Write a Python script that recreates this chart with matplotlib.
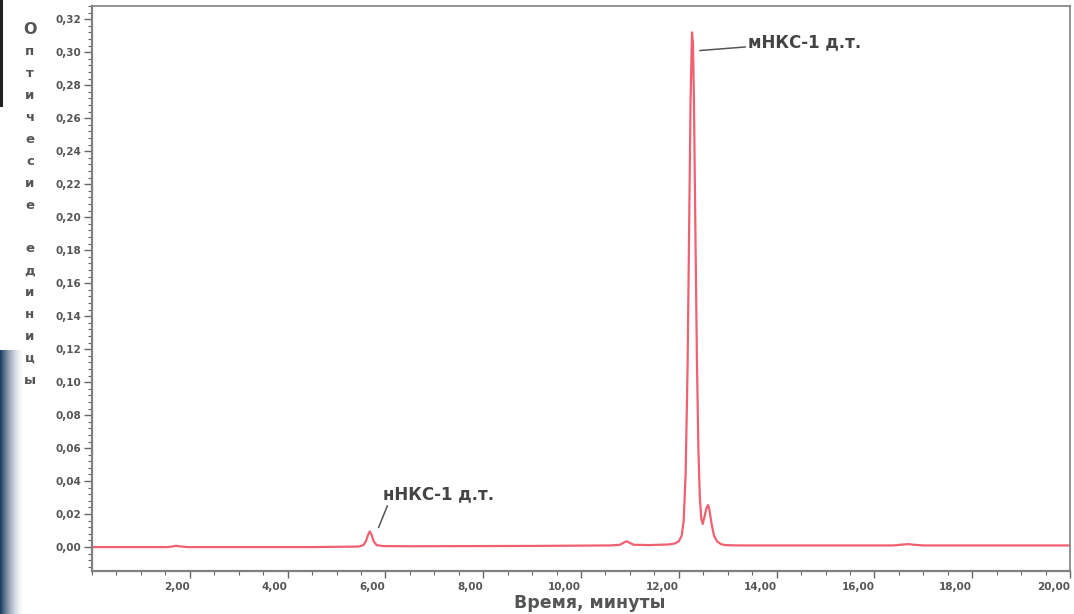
import numpy as np
import matplotlib
matplotlib.use("Agg")
import matplotlib.pyplot as plt
from matplotlib.ticker import MultipleLocator, FuncFormatter

# ---- data (time, min ; optical units) ----
time_min = [0.0, 1.55, 1.65, 1.72, 1.80, 1.95, 4.5, 5.45, 5.55, 5.60, 5.64, 5.68, 5.72,
            5.76, 5.82, 5.95, 6.5, 9.0, 10.6, 10.80, 10.88, 10.93, 10.98, 11.08, 11.4,
            11.80, 11.92, 12.00, 12.06, 12.10, 12.14, 12.18, 12.21, 12.24, 12.27, 12.29,
            12.31, 12.34, 12.37, 12.40, 12.43, 12.46, 12.49, 12.53, 12.57, 12.60, 12.63,
            12.67, 12.72, 12.78, 12.86, 12.95, 13.2, 14.5, 16.4, 16.6, 16.7, 16.8, 17.0,
            20.0]
absorb = [0.0000, 0.0000, 0.0004, 0.0008, 0.0004, 0.0000, 0.0000, 0.0003, 0.0012, 0.0035,
          0.0070, 0.0095, 0.0072, 0.0035, 0.0012, 0.0006, 0.0005, 0.0007, 0.0010, 0.0014,
          0.0028, 0.0035, 0.0028, 0.0014, 0.0012, 0.0016, 0.0022, 0.0035, 0.0070, 0.0160,
          0.0450, 0.1100, 0.1900, 0.2700, 0.3120, 0.3050, 0.2700, 0.1900, 0.1150, 0.0600,
          0.0300, 0.0170, 0.0140, 0.0190, 0.0240, 0.0255, 0.0220, 0.0140, 0.0070, 0.0035,
          0.0018, 0.0012, 0.0010, 0.0010, 0.0010, 0.0016, 0.0018, 0.0014, 0.0010, 0.0010]

x_ticks = [2, 4, 6, 8, 10, 12, 14, 16, 18, 20]
y_ticks = [0.00, 0.02, 0.04, 0.06, 0.08, 0.10, 0.12, 0.14, 0.16, 0.18, 0.20, 0.22,
           0.24, 0.26, 0.28, 0.30, 0.32]

annot_main = "мНКС-1 д.т."
annot_minor = "нНКС-1 д.т."
y_label_word = "Оптичесие единицы"
x_label = "Время, минуты"

# ---- figure ----
W, H = 1074, 614
fig = plt.figure(figsize=(W / 100, H / 100), dpi=100)
fig.patch.set_facecolor("white")

# decorative slide edge (dark blue gradient at left, dark bar top-left)
grad_ax = fig.add_axes([0, 0, 24 / W, (614 - 350) / H])
grad = np.linspace(1, 0, 64)[None, :] ** 1.6
grad_ax.imshow(np.dstack([0.10 + 0.9 * (1 - grad), 0.23 + 0.77 * (1 - grad),
                          0.38 + 0.62 * (1 - grad)]), aspect="auto")
grad_ax.axis("off")
fig.add_artist(plt.Line2D([1.2 / W, 1.2 / W], [1 - 105 / H, 1.0], color="#222222",
                          lw=2.2, transform=fig.transFigure))

ax = fig.add_axes([92 / W, (614 - 571) / H, (1070 - 92) / W, (571 - 6) / H])
ax.plot(time_min, absorb, color="#ee5060", lw=1.6, alpha=0.9, solid_joinstyle="round")

ax.set_xlim(0, 20)
ax.set_ylim(-0.0145, 0.328)
ax.set_xticks(x_ticks)
ax.set_yticks(y_ticks)
ax.xaxis.set_minor_locator(MultipleLocator(0.5))
ax.yaxis.set_minor_locator(MultipleLocator(0.004))
fmt = FuncFormatter(lambda v, p: f"{v:.2f}".replace(".", ","))
ax.xaxis.set_major_formatter(fmt)
ax.yaxis.set_major_formatter(fmt)

ax.tick_params(axis="both", which="major", direction="out", length=5, width=1.0,
               color="#666666", labelsize=7.5, labelcolor="#555555")
ax.tick_params(axis="both", which="minor", direction="out", length=3, width=0.8,
               color="#666666")
ax.tick_params(axis="y", which="major", length=6, pad=2)
ax.tick_params(axis="x", which="major", pad=3)
for lab in ax.get_xticklabels():
    lab.set_ha("right")
    lab.set_fontweight("bold")
for lab in ax.get_yticklabels():
    lab.set_fontweight("bold")

for side, sp in ax.spines.items():
    sp.set_color("#808080")
    sp.set_linewidth(1.6 if side in ("left", "bottom") else 1.2)

# annotations
ax.annotate(annot_main, xy=(12.43, 0.301), xytext=(13.42, 0.306),
            fontsize=12, fontweight="bold", color="#444444", va="center", ha="left",
            arrowprops=dict(arrowstyle="-", color="#555555", lw=1.1, shrinkA=0, shrinkB=0))
ax.annotate(annot_minor, xy=(5.86, 0.0118), xytext=(5.95, 0.0322),
            fontsize=12, fontweight="bold", color="#444444", va="center", ha="left",
            arrowprops=dict(arrowstyle="-", color="#555555", lw=1.1, shrinkA=0, shrinkB=0,
                            relpos=(0.05, 0.0)))

# vertical stacked y label
y0, step = 30, 21.9
for i, ch in enumerate(y_label_word):
    if ch == " ":
        continue
    fig.text(30 / W, 1 - (y0 + i * step) / H, ch, ha="center", va="center",
             fontsize=9.5 if i else 11.5, fontweight="bold", color="#555555")

fig.text(590 / W, 1.5 / H, x_label, ha="center", va="bottom", fontsize=12.5,
         fontweight="bold", color="#555555")

fig.savefig("out.png", dpi=100, facecolor="white")
